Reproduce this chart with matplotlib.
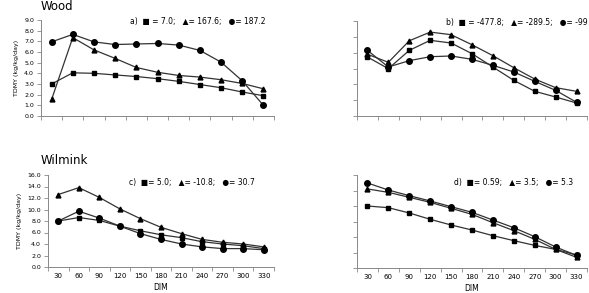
import matplotlib
matplotlib.use("Agg")
import matplotlib.pyplot as plt
import numpy as np

dim = [30, 60, 90, 120, 150, 180, 210, 240, 270, 300, 330]

# a) Wood
wood_a_sq = [3.0, 4.05, 4.0, 3.85, 3.7, 3.5, 3.25, 2.95, 2.65, 2.25, 1.9]
wood_a_tri = [1.55, 7.35, 6.2, 5.4, 4.55, 4.1, 3.8, 3.65, 3.4, 3.05, 2.55]
wood_a_circ = [6.95, 7.65, 6.95, 6.7, 6.75, 6.8, 6.65, 6.15, 5.05, 3.3, 1.0]

# b) Wood
wood_b_sq = [7.45, 5.98, 8.29, 9.56, 9.22, 7.87, 6.19, 4.5, 3.12, 2.4, 1.64]
wood_b_tri = [7.8, 6.78, 9.5, 10.6, 10.27, 9.0, 7.62, 6.1, 4.67, 3.58, 3.12]
wood_b_circ = [8.29, 6.19, 6.99, 7.49, 7.58, 7.16, 6.4, 5.56, 4.38, 3.24, 1.73]

# c) Wilmink
wil_c_sq = [8.0, 8.6, 8.1, 7.1, 6.3, 5.6, 5.1, 4.4, 4.0, 3.7, 3.2]
wil_c_tri = [12.6, 13.8, 12.1, 10.1, 8.4, 6.9, 5.8, 4.8, 4.3, 4.0, 3.5]
wil_c_circ = [8.0, 9.7, 8.5, 7.1, 5.8, 4.8, 4.0, 3.5, 3.2, 3.2, 3.0]

# d) Wilmink
wil_d_sq = [8.0, 7.78, 7.1, 6.28, 5.55, 4.9, 4.17, 3.53, 2.92, 2.4, 1.68]
wil_d_tri = [10.2, 9.76, 9.12, 8.47, 7.7, 6.92, 5.85, 4.82, 3.7, 2.4, 1.38]
wil_d_circ = [10.97, 10.06, 9.33, 8.65, 7.91, 7.18, 6.19, 5.2, 4.04, 2.71, 1.63]

labels_a = "a)  \u25a0 = 7.0;   \u25b2= 167.6;   \u25cf= 187.2"
labels_b = "b)  \u25a0 = -477.8;   \u25b2= -289.5;   \u25cf= -99"
labels_c = "c)  \u25a0= 5.0;   \u25b2= -10.8;   \u25cf= 30.7"
labels_d = "d)  \u25a0= 0.59;   \u25b2= 3.5;   \u25cf= 5.3"

W, H = 589, 293
fig = plt.figure(figsize=(W / 100, H / 100), dpi=100)


def make_ax(l, r, t, b):
    return fig.add_axes([l / W, 1 - b / H, (r - l) / W, (b - t) / H])


def style(ax, ymax, ystep, show_y, show_x):
    x = np.arange(len(dim))
    ax.set_xlim(-0.5, len(dim) - 0.5)
    ax.set_ylim(0, ymax)
    ax.set_yticks(np.arange(0, ymax + 0.01, ystep))
    if show_y:
        ax.set_yticklabels([f"{v:.1f}" for v in np.arange(0, ymax + 0.01, ystep)])
    else:
        ax.set_yticklabels([])
    ax.set_xticks(x)
    if show_x:
        ax.set_xticklabels([str(d) for d in dim])
    else:
        ax.set_xticklabels([])
    ax.set_xticks(np.arange(-0.5, len(dim), 1), minor=True)
    ax.tick_params(axis="x", which="major", length=0, labelsize=5, pad=4)
    ax.tick_params(axis="x", which="minor", length=3, width=0.6, color="#888888")
    ax.tick_params(axis="y", length=3, width=0.6, color="#888888", labelsize=4.5, pad=2)
    for s in ["top", "right"]:
        ax.spines[s].set_visible(False)
    for s in ["left", "bottom"]:
        ax.spines[s].set_color("#888888")
        ax.spines[s].set_linewidth(0.7)


def draw(ax, sq, tri, circ):
    x = np.arange(len(dim))
    kw = dict(color="#333333", lw=0.9, markerfacecolor="black", markeredgecolor="black")
    ax.plot(x, sq, marker="s", ms=3.5, **kw)
    ax.plot(x, tri, marker="^", ms=3.5, **kw)
    ax.plot(x, circ, marker="o", ms=4, **kw)


ax_a = make_ax(41, 274, 20, 116)
draw(ax_a, wood_a_sq, wood_a_tri, wood_a_circ)
style(ax_a, 9, 1, True, False)
ax_a.text(0.38, 0.98, labels_a, transform=ax_a.transAxes, fontsize=5.5, va="center")
ax_a.set_ylabel("TDMY (kg/kg/day)", fontsize=4.5, labelpad=4)
fig.text(41 / W, 1 - 7 / H, "Wood", fontsize=8.5, va="center")

ax_b = make_ax(357, 587, 21, 116)
draw(ax_b, wood_b_sq, wood_b_tri, wood_b_circ)
style(ax_b, 12, 2, False, False)
ax_b.text(0.387, 0.98, labels_b, transform=ax_b.transAxes, fontsize=5.5, va="center")

ax_c = make_ax(48, 274, 175, 267)
draw(ax_c, wil_c_sq, wil_c_tri, wil_c_circ)
style(ax_c, 16, 2, True, True)
ax_c.text(0.36, 0.92, labels_c, transform=ax_c.transAxes, fontsize=5.5, va="center")
ax_c.set_ylabel("TDMY (kg/kg/day)", fontsize=4.5, labelpad=4)
ax_c.set_xlabel("DIM", fontsize=5.5, labelpad=3)
fig.text(41 / W, 1 - 160 / H, "Wilmink", fontsize=8.5, va="center")

ax_d = make_ax(357, 587, 175, 268)
draw(ax_d, wil_d_sq, wil_d_tri, wil_d_circ)
style(ax_d, 12, 2, False, True)
ax_d.text(0.42, 0.92, labels_d, transform=ax_d.transAxes, fontsize=5.5, va="center")
ax_d.set_xlabel("DIM", fontsize=5.5, labelpad=3)

fig.savefig("out.png", dpi=100)
